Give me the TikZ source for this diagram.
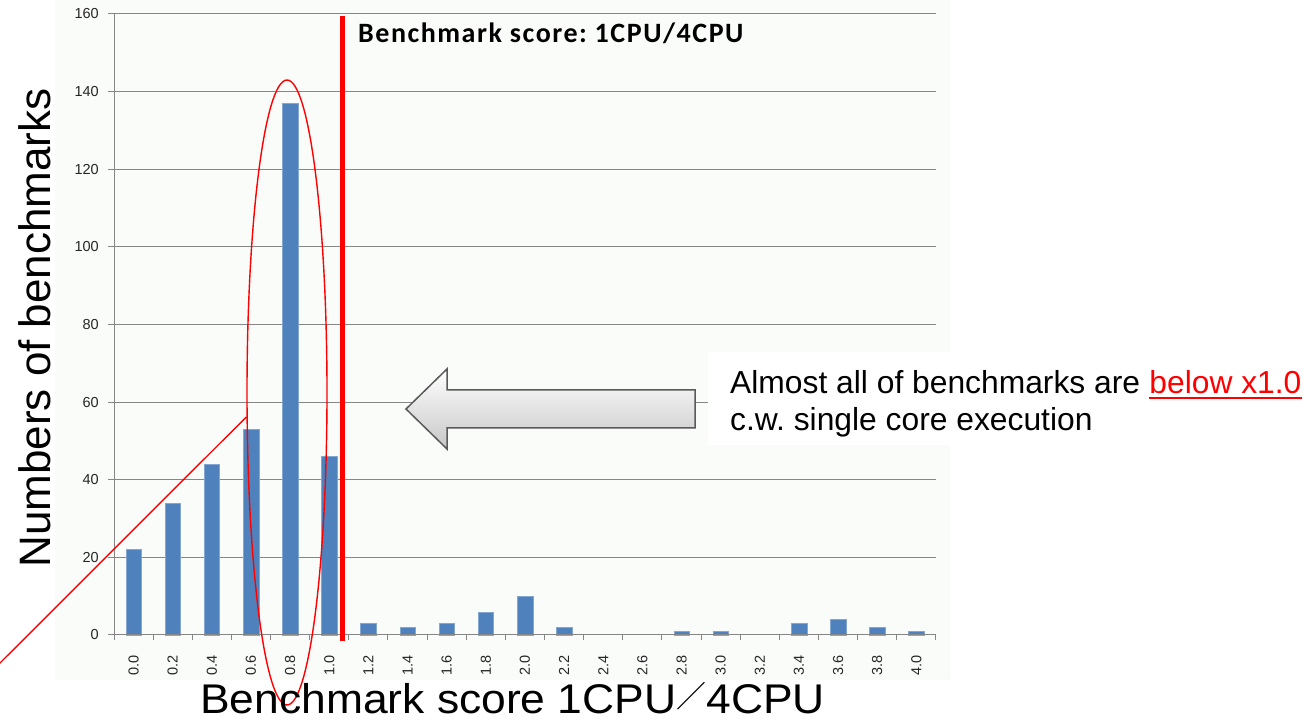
\documentclass[tikz,border=0pt]{standalone}
\usepackage{fontspec}
\setmainfont{Liberation Sans}
\newfontfamily\calibri[LetterSpace=5.5]{Carlito}
\newfontfamily\widesans[FakeStretch=1.07]{Liberation Sans}
\newfontfamily\cjk{Noto Sans CJK JP}
\usetikzlibrary{shapes.geometric}
\frenchspacing
\definecolor{chartbg}{RGB}{250,252,250}
\definecolor{barblue}{RGB}{79,129,189}
\definecolor{gridgray}{RGB}{134,134,134}
\definecolor{arrowedge}{RGB}{90,90,90}
\tikzset{
  gridline/.style={draw=gridgray, line width=1pt},
  bar/.style={fill=barblue, draw=barblue!70!white, line width=0.4pt},
  ticklabel/.style={inner sep=0pt, text=black!85, font=\fontsize{14.5}{16}\selectfont},
  redmark/.style={draw=red, line width=1.4pt},
  bigtitle/.style={inner sep=0pt, text=black},
  notetext/.style={inner sep=0pt, anchor=base west, font=\fontsize{31.8}{37}\selectfont},
}
\begin{document}
\begin{tikzpicture}[x=1pt,y=1pt]
\useasboundingbox (0,0) rectangle (1309,720);
\fill[white] (0,0) rectangle (1309,720);
% chart area
\fill[chartbg] (55,40) rectangle (950,720);
\begin{scope}[xshift=114pt, yshift=85pt, x=39.14pt, y=3.88125pt]
  % horizontal grid with left ticks
  \foreach \v in {20,40,...,160}
    \draw[gridline] (-0.153,\v) -- (21,\v);
  \draw[gridline] (-0.153,0) -- (0,0);
  % bars
  \foreach \h [count=\i from 0] in {22,34,44,53,137,46,3,2,3,6,10,2,0,0,1,1,0,3,4,2,1}{
    \ifnum\h>0\relax
      \path[bar] (\i+0.3,0) rectangle (\i+0.7,\h);
    \fi
  }
  % axes
  \draw[gridline] (0,0) -- (0,160);
  \draw[gridline] (0,0) -- (21,0);
  \foreach \i in {0,...,21}
    \draw[gridline] (\i,0) -- (\i,-1.29);
  % value labels
  \foreach \v in {0,20,...,160}
    \node[ticklabel, anchor=east] (yl\v) at (-0.383,\v) {\v};
  % category labels
  \foreach \lab [count=\i from 0] in {0.0,0.2,0.4,0.6,0.8,1.0,1.2,1.4,1.6,1.8,2.0,2.2,2.4,2.6,2.8,3.0,3.2,3.4,3.6,3.8,4.0}
    \node[ticklabel, rotate=90, anchor=east] (xl\i) at (\i+0.5,-5.153) {\lab};
\end{scope}
% threshold line
\coordinate (thrtop) at (342,704);
\coordinate (thrbot) at (342,79);
\draw[red, line width=5pt] (thrbot) -- (thrtop);
\node[inner sep=0pt, anchor=base west, font=\calibri\bfseries\fontsize{28}{32}\selectfont] (head) at (358,677) {Benchmark score: 1CPU/4CPU};
% ellipse around the peak and its pointer line
\node[redmark, ellipse, minimum width=80pt, minimum height=625pt, inner sep=0pt] (ell) at (287,327.5) {};
\coordinate (tail) at (-2,55);
\draw[redmark] (tail) -- (ell.211.5);
% block arrow
\draw[draw=arrowedge, line width=1.5pt, top color=white, bottom color=black!22, line join=miter]
  (406,311) -- (447,351) -- (447,330) -- (695,330) -- (695,292) -- (447,292) -- (447,271) -- cycle;
% note box
\fill[white] (708,275) rectangle (1309,368);
\node[notetext] (note1) at (730,326) {Almost all of benchmarks are};
\node[notetext, text=red] (note1b) at ([xshift=8.8pt]note1.base east) {below x1.0};
\draw[red, line width=2pt] ([yshift=-3.7pt]note1b.base west) -- ([yshift=-3.7pt]note1b.base east);
\node[notetext] (note2) at (730,289) {c.w. single core execution};
% axis titles
\node[bigtitle, rotate=90, anchor=base, font=\fontsize{44}{50}\selectfont] (ytitle) at (50.7,392) {Numbers of benchmarks};
\node[bigtitle, anchor=base west, font=\widesans\fontsize{41.5}{48}\selectfont] (xtitle) at (200,6)
  {Benchmark score 1CPU\raisebox{6pt}{\scalebox{0.72}{\cjk ／}}4CPU};
\end{tikzpicture}
\end{document}
